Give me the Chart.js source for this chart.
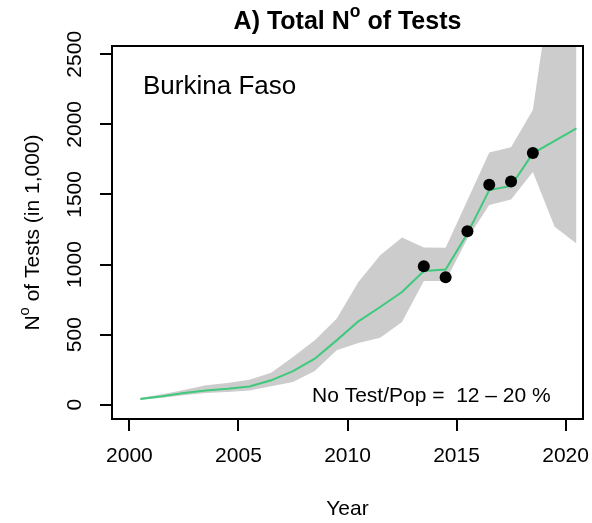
<!DOCTYPE html>
<html>
<head>
<meta charset="utf-8">
<script src="https://cdn.jsdelivr.net/npm/chart.js@4/dist/chart.umd.min.js"></script>
<style>
  body { margin: 0; background: #fff; }
  canvas { display: block; }
</style>
</head>
<body>
<canvas id="grafico" width="592" height="523"></canvas>
<script>
// dados
const years = [2000.5, 2001.5, 2002.5, 2003.5, 2004.5, 2005.5, 2006.5, 2007.5, 2008.5, 2009.5, 2010.5,
  2011.5, 2012.5, 2013.5, 2014.5, 2015.5, 2016.5, 2017.5, 2018.5, 2019.5, 2020.5];
const median = [40, 61, 83, 102, 114, 130, 174, 240, 328, 459, 595, 697, 804, 954, 964, 1221, 1531, 1561, 1793, 1882, 1971];
const upper = [50, 75, 105, 138, 155, 178, 228, 340, 459, 614, 876, 1066, 1193, 1121, 1119, 1459, 1800, 1836, 2102, 3170, 3300];
const lower = [35, 50, 68, 83, 90, 102, 131, 162, 240, 388, 440, 478, 590, 883, 883, 1186, 1424, 1464, 1661, 1269, 1150];
const obsYears = [2013.5, 2014.5, 2015.5, 2016.5, 2017.5, 2018.5];
const observed = [988, 909, 1238, 1569, 1593, 1795];
const xTicks = [2000, 2005, 2010, 2015, 2020];
const yTicks = [0, 500, 1000, 1500, 2000, 2500];

const FONT = '"Liberation Sans", Arial, Helvetica, sans-serif';

function pares(xs, ys) {
  return xs.map((x, i) => ({ x: x, y: ys[i] }));
}

// escreve texto com partes em sobrescrito (ex.: N^o)
function textoSup(ctx, partes, x, y, size, bold, align) {
  const peso = bold ? 'bold ' : '';
  let total = 0;
  partes.forEach(p => {
    ctx.font = peso + (p.sup ? size * 0.7 : size) + 'px ' + FONT;
    p.w = ctx.measureText(p.t).width;
    total += p.w;
  });
  let cx = align === 'center' ? x - total / 2 : x;
  ctx.textAlign = 'left';
  ctx.textBaseline = 'alphabetic';
  partes.forEach(p => {
    ctx.font = peso + (p.sup ? size * 0.7 : size) + 'px ' + FONT;
    ctx.fillText(p.t, cx, p.sup ? y - size * 0.48 : y);
    cx += p.w;
  });
}

const textos = {
  id: 'textos',
  afterDraw(chart) {
    const ctx = chart.ctx;
    const a = chart.chartArea;
    const ys = chart.scales.y;
    ctx.save();
    ctx.fillStyle = '#000';

    // caixa
    ctx.strokeStyle = '#000';
    ctx.lineWidth = 2;
    ctx.strokeRect(a.left, a.top, a.right - a.left, a.bottom - a.top);

    // rótulos do eixo y, verticais como no R
    ctx.font = '21px ' + FONT;
    ys.ticks.forEach(t => {
      const py = ys.getPixelForValue(t.value);
      ctx.save();
      ctx.translate(81, py);
      ctx.rotate(-Math.PI / 2);
      ctx.textAlign = 'center';
      ctx.textBaseline = 'alphabetic';
      ctx.fillText(String(t.value), 0, 0);
      ctx.restore();
    });

    // título
    textoSup(ctx, [{ t: 'A) Total N' }, { t: 'o', sup: true }, { t: ' of Tests' }],
      (a.left + a.right) / 2, 29, 25, true, 'center');

    // rótulo y
    ctx.save();
    ctx.translate(39, (a.top + a.bottom) / 2);
    ctx.rotate(-Math.PI / 2);
    textoSup(ctx, [{ t: 'N' }, { t: 'o', sup: true }, { t: ' of Tests (in 1,000)' }], 0, 0, 21, false, 'center');
    ctx.restore();

    // rótulo x
    ctx.font = '21px ' + FONT;
    ctx.textAlign = 'center';
    ctx.textBaseline = 'alphabetic';
    ctx.fillText('Year', (a.left + a.right) / 2, 515);

    // anotações
    ctx.textAlign = 'left';
    ctx.font = '26px ' + FONT;
    ctx.fillText('Burkina Faso', 143, 94);
    ctx.font = '21px ' + FONT;
    ctx.fillText('No Test/Pop =  12 \u2013 20 %', 312, 402);
    ctx.restore();
  }
};

const ctx = document.getElementById('grafico').getContext('2d');
const data = {
  datasets: [
    {
      label: 'observed',
      data: pares(obsYears, observed),
      showLine: false,
      pointRadius: 6,
      pointBackgroundColor: '#000',
      pointBorderColor: '#000',
      pointBorderWidth: 0
    },
    {
      label: 'median',
      data: pares(years, median),
      borderColor: '#3ec97c',
      borderWidth: 2,
      pointRadius: 0,
      fill: false
    },
    {
      label: 'upper',
      data: pares(years, upper),
      borderWidth: 0,
      borderColor: 'rgba(0,0,0,0)',
      backgroundColor: '#cccccc',
      pointRadius: 0,
      fill: '+1'
    },
    {
      label: 'lower',
      data: pares(years, lower),
      borderWidth: 0,
      borderColor: 'rgba(0,0,0,0)',
      pointRadius: 0,
      fill: false
    }
  ]
};

const configuracao = {
  type: 'line',
  data: data,
  options: {
    responsive: false,
    animation: false,
    layout: { padding: { left: 0, right: 9, top: 46, bottom: 0 } },
    plugins: {
      legend: { display: false },
      tooltip: { enabled: false }
    },
    scales: {
      x: {
        type: 'linear',
        min: 1999.2,
        max: 2020.8,
        afterBuildTicks: s => { s.ticks = xTicks.map(v => ({ value: v })); },
        afterFit: s => { s.height = 104; s.paddingLeft = 0; s.paddingRight = 0; },
        grid: { drawOnChartArea: false, drawTicks: true, tickLength: 12, color: '#000', lineWidth: 2 },
        border: { display: false },
        ticks: {
          color: '#000', font: { family: FONT, size: 21 }, padding: 13, maxRotation: 0,
          callback: v => String(v)
        }
      },
      y: {
        type: 'linear',
        min: -102,
        max: 2559,
        afterBuildTicks: s => { s.ticks = yTicks.map(v => ({ value: v })); },
        afterFit: s => { s.width = 112; s.paddingTop = 0; s.paddingBottom = 0; },
        grid: { drawOnChartArea: false, drawTicks: true, tickLength: 12, color: '#000', lineWidth: 2 },
        border: { display: false },
        ticks: { display: false }
      }
    }
  },
  plugins: [textos]
};

const myChart = new Chart(ctx, configuracao);
</script>
</body>
</html>
